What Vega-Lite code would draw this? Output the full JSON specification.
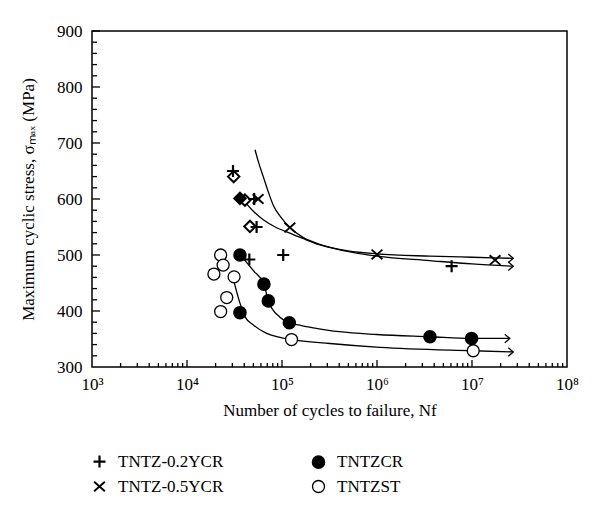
{
  "$schema": "https://vega.github.io/schema/vega-lite/v6.json",
  "width": 475,
  "height": 336,
  "autosize": {"type": "none"},
  "padding": {"left": 92, "top": 31, "right": 33, "bottom": 149},
  "background": "white",
  "config": {
    "font": "Liberation Serif",
    "view": {"stroke": "black", "strokeWidth": 1.5},
    "axis": {
      "grid": false,
      "domainColor": "black",
      "domainWidth": 1.5,
      "labelColor": "black",
      "titleColor": "black",
      "labelFont": "Liberation Serif",
      "titleFont": "Liberation Serif",
      "labelFontSize": 17,
      "titleFontSize": 17,
      "titleFontWeight": "normal",
      "labelOverlap": false,
      "labelFlush": false
    },
    "legend": {
      "orient": "none",
      "legendX": -1,
      "legendY": 422,
      "columns": 2,
      "columnPadding": 85,
      "rowPadding": 5,
      "labelFont": "Liberation Serif",
      "labelFontSize": 17,
      "labelFontWeight": "normal",
      "labelColor": "black",
      "labelOffset": 10,
      "symbolSize": 144,
      "symbolStrokeColor": "black",
      "symbolStrokeWidth": 2,
      "padding": 0
    }
  },
  "datasets": {
    "pts": [
      {"series": "TNTZ-0.2YCR", "cycles": 30500, "stress": 650},
      {"series": "TNTZ-0.2YCR", "cycles": 51000, "stress": 600},
      {"series": "TNTZ-0.2YCR", "cycles": 54000, "stress": 550},
      {"series": "TNTZ-0.2YCR", "cycles": 45300, "stress": 492},
      {"series": "TNTZ-0.2YCR", "cycles": 103000, "stress": 500},
      {"series": "TNTZ-0.2YCR", "cycles": 6100000, "stress": 480},
      {"series": "TNTZ-0.5YCR", "cycles": 56000, "stress": 600},
      {"series": "TNTZ-0.5YCR", "cycles": 121000, "stress": 549},
      {"series": "TNTZ-0.5YCR", "cycles": 1000000, "stress": 501},
      {"series": "TNTZ-0.5YCR", "cycles": 17500000, "stress": 491},
      {"series": "TNTZCR", "cycles": 36100, "stress": 500},
      {"series": "TNTZCR", "cycles": 64500, "stress": 448},
      {"series": "TNTZCR", "cycles": 71800, "stress": 418},
      {"series": "TNTZCR", "cycles": 36100, "stress": 397},
      {"series": "TNTZCR", "cycles": 119500, "stress": 379},
      {"series": "TNTZCR", "cycles": 3610000, "stress": 354},
      {"series": "TNTZCR", "cycles": 9900000, "stress": 351},
      {"series": "TNTZST", "cycles": 22600, "stress": 500},
      {"series": "TNTZST", "cycles": 24000, "stress": 482},
      {"series": "TNTZST", "cycles": 19200, "stress": 466},
      {"series": "TNTZST", "cycles": 31300, "stress": 461},
      {"series": "TNTZST", "cycles": 26200, "stress": 424},
      {"series": "TNTZST", "cycles": 22600, "stress": 399},
      {"series": "TNTZST", "cycles": 126000, "stress": 349},
      {"series": "TNTZST", "cycles": 10300000, "stress": 329}
    ],
    "diamondsOpen": [
      {"cycles": 31000, "stress": 640},
      {"cycles": 40700, "stress": 598},
      {"cycles": 46000, "stress": 551}
    ],
    "diamondsSolid": [
      {"cycles": 36100, "stress": 601}
    ],
    "curves": [
      {"curve": "A", "cycles": 52000, "stress": 688},
      {"curve": "A", "cycles": 57000, "stress": 664},
      {"curve": "A", "cycles": 63500, "stress": 640},
      {"curve": "A", "cycles": 72000, "stress": 612},
      {"curve": "A", "cycles": 80900, "stress": 589},
      {"curve": "A", "cycles": 100000, "stress": 565},
      {"curve": "A", "cycles": 121000, "stress": 549},
      {"curve": "A", "cycles": 168000, "stress": 531},
      {"curve": "A", "cycles": 250000, "stress": 519},
      {"curve": "A", "cycles": 400000, "stress": 510},
      {"curve": "A", "cycles": 1000000, "stress": 502},
      {"curve": "A", "cycles": 3600000, "stress": 498},
      {"curve": "A", "cycles": 10000000, "stress": 496},
      {"curve": "A", "cycles": 27200000, "stress": 494},
      {"curve": "B", "cycles": 39200, "stress": 598},
      {"curve": "B", "cycles": 50000, "stress": 578},
      {"curve": "B", "cycles": 63500, "stress": 563},
      {"curve": "B", "cycles": 85000, "stress": 550},
      {"curve": "B", "cycles": 121000, "stress": 539},
      {"curve": "B", "cycles": 168000, "stress": 529},
      {"curve": "B", "cycles": 250000, "stress": 518},
      {"curve": "B", "cycles": 442000, "stress": 508},
      {"curve": "B", "cycles": 1000000, "stress": 498},
      {"curve": "B", "cycles": 3600000, "stress": 490},
      {"curve": "B", "cycles": 10000000, "stress": 484},
      {"curve": "B", "cycles": 27200000, "stress": 480},
      {"curve": "C", "cycles": 37000, "stress": 499},
      {"curve": "C", "cycles": 50000, "stress": 472},
      {"curve": "C", "cycles": 64500, "stress": 448},
      {"curve": "C", "cycles": 71800, "stress": 418},
      {"curve": "C", "cycles": 95000, "stress": 389},
      {"curve": "C", "cycles": 119500, "stress": 379},
      {"curve": "C", "cycles": 160000, "stress": 374},
      {"curve": "C", "cycles": 214000, "stress": 370},
      {"curve": "C", "cycles": 400000, "stress": 363},
      {"curve": "C", "cycles": 1000000, "stress": 358},
      {"curve": "C", "cycles": 3600000, "stress": 354},
      {"curve": "C", "cycles": 10000000, "stress": 351},
      {"curve": "C", "cycles": 25000000, "stress": 351},
      {"curve": "D", "cycles": 30000, "stress": 464},
      {"curve": "D", "cycles": 36100, "stress": 414},
      {"curve": "D", "cycles": 40700, "stress": 390},
      {"curve": "D", "cycles": 50000, "stress": 375},
      {"curve": "D", "cycles": 69000, "stress": 360},
      {"curve": "D", "cycles": 95000, "stress": 353},
      {"curve": "D", "cycles": 126000, "stress": 349},
      {"curve": "D", "cycles": 320000, "stress": 342},
      {"curve": "D", "cycles": 1070000, "stress": 335},
      {"curve": "D", "cycles": 10300000, "stress": 329},
      {"curve": "D", "cycles": 27200000, "stress": 327}
    ],
    "arrows": [
      {"curve": "A", "cycles": 27200000, "stress": 494},
      {"curve": "B", "cycles": 27200000, "stress": 480},
      {"curve": "C", "cycles": 25000000, "stress": 351},
      {"curve": "D", "cycles": 27200000, "stress": 327}
    ],
    "xTicksMajor": [
      {"cycles": 10000}, {"cycles": 100000}, {"cycles": 1000000}, {"cycles": 10000000}
    ],
    "xTicksMinor": [
      {"cycles": 2000}, {"cycles": 3000}, {"cycles": 4000}, {"cycles": 5000}, {"cycles": 6000}, {"cycles": 7000}, {"cycles": 8000}, {"cycles": 9000},
      {"cycles": 20000}, {"cycles": 30000}, {"cycles": 40000}, {"cycles": 50000}, {"cycles": 60000}, {"cycles": 70000}, {"cycles": 80000}, {"cycles": 90000},
      {"cycles": 200000}, {"cycles": 300000}, {"cycles": 400000}, {"cycles": 500000}, {"cycles": 600000}, {"cycles": 700000}, {"cycles": 800000}, {"cycles": 900000},
      {"cycles": 2000000}, {"cycles": 3000000}, {"cycles": 4000000}, {"cycles": 5000000}, {"cycles": 6000000}, {"cycles": 7000000}, {"cycles": 8000000}, {"cycles": 9000000},
      {"cycles": 20000000}, {"cycles": 30000000}, {"cycles": 40000000}, {"cycles": 50000000}, {"cycles": 60000000}, {"cycles": 70000000}, {"cycles": 80000000}, {"cycles": 90000000}
    ],
    "yTicksMajor": [
      {"stress": 400}, {"stress": 500}, {"stress": 600}, {"stress": 700}, {"stress": 800}, {"stress": 900}
    ],
    "yTicksMinor": [
      {"stress": 320}, {"stress": 340}, {"stress": 360}, {"stress": 380},
      {"stress": 420}, {"stress": 440}, {"stress": 460}, {"stress": 480},
      {"stress": 520}, {"stress": 540}, {"stress": 560}, {"stress": 580},
      {"stress": 620}, {"stress": 640}, {"stress": 660}, {"stress": 680},
      {"stress": 720}, {"stress": 740}, {"stress": 760}, {"stress": 780},
      {"stress": 820}, {"stress": 840}, {"stress": 860}, {"stress": 880}
    ]
  },
  "resolve": {"axis": {"x": "independent", "y": "independent"}},
  "layer": [
    {
      "data": {"name": "xTicksMajor"},
      "mark": {"type": "tick", "orient": "vertical", "size": 7, "thickness": 1.3, "color": "black", "opacity": 1, "yOffset": -3.5},
      "encoding": {
        "x": {"field": "cycles", "type": "quantitative", "scale": {"type": "log", "domain": [1000, 100000000], "nice": false}, "axis": null},
        "y": {"datum": 300, "type": "quantitative", "scale": {"domain": [300, 900], "nice": false, "zero": false}, "axis": null}
      }
    },
    {
      "data": {"name": "xTicksMinor"},
      "mark": {"type": "tick", "orient": "vertical", "size": 4, "thickness": 1.3, "color": "black", "opacity": 1, "yOffset": -2},
      "encoding": {
        "x": {"field": "cycles", "type": "quantitative", "scale": {"type": "log", "domain": [1000, 100000000], "nice": false}, "axis": null},
        "y": {"datum": 300, "type": "quantitative", "scale": {"domain": [300, 900], "nice": false, "zero": false}, "axis": null}
      }
    },
    {
      "data": {"name": "yTicksMajor"},
      "mark": {"type": "tick", "orient": "horizontal", "size": 8, "thickness": 1.3, "color": "black", "opacity": 1, "xOffset": 4},
      "encoding": {
        "x": {"datum": 1000, "type": "quantitative", "scale": {"type": "log", "domain": [1000, 100000000], "nice": false}, "axis": null},
        "y": {"field": "stress", "type": "quantitative", "scale": {"domain": [300, 900], "nice": false, "zero": false}, "axis": null}
      }
    },
    {
      "data": {"name": "yTicksMinor"},
      "mark": {"type": "tick", "orient": "horizontal", "size": 5, "thickness": 1.3, "color": "black", "opacity": 1, "xOffset": 2.5},
      "encoding": {
        "x": {"datum": 1000, "type": "quantitative", "scale": {"type": "log", "domain": [1000, 100000000], "nice": false}, "axis": null},
        "y": {"field": "stress", "type": "quantitative", "scale": {"domain": [300, 900], "nice": false, "zero": false}, "axis": null}
      }
    },
    {
      "data": {"name": "curves"},
      "mark": {"type": "line", "color": "black", "strokeWidth": 1.3, "interpolate": "monotone"},
      "encoding": {
        "x": {"field": "cycles", "type": "quantitative", "scale": {"type": "log", "domain": [1000, 100000000], "nice": false}, "axis": null},
        "y": {"field": "stress", "type": "quantitative", "scale": {"domain": [300, 900], "nice": false, "zero": false}, "axis": null},
        "detail": {"field": "curve", "type": "nominal"}
      }
    },
    {
      "data": {"name": "arrows"},
      "mark": {"type": "point", "shape": "M-1,-0.85L0,0L-1,0.85", "filled": false, "stroke": "black", "strokeWidth": 1.3, "size": 100, "opacity": 1},
      "encoding": {
        "x": {
          "field": "cycles", "type": "quantitative",
          "scale": {"type": "log", "domain": [1000, 100000000], "nice": false},
          "axis": {
            "orient": "bottom",
            "domain": false,
            "ticks": true,
            "offset": -7,
            "tickSize": 7,
            "tickOpacity": 0,
            "title": "Number of cycles to failure, Nf",
            "titleFont": "Liberation Serif",
            "values": [1000, 10000, 100000, 1000000, 10000000, 100000000],
            "labelExpr": "'10' + ['⁰','¹','²','³','⁴','⁵','⁶','⁷','⁸'][round(log(datum.value)/LN10)]",
            "labelPadding": 9,
            "titlePadding": 10
          }
        },
        "y": {
          "field": "stress", "type": "quantitative",
          "scale": {"domain": [300, 900], "nice": false, "zero": false},
          "axis": {
            "orient": "left",
            "domain": false,
            "ticks": true,
            "offset": -8,
            "tickSize": 8,
            "tickOpacity": 0,
            "title": "Maximum cyclic stress, σₘₐₓ (MPa)",
            "titleFont": "Liberation Serif",
            "values": [300, 400, 500, 600, 700, 800, 900],
            "labelPadding": 10,
            "titlePadding": 19
          }
        }
      }
    },
    {
      "data": {"name": "diamondsOpen"},
      "mark": {"type": "point", "shape": "diamond", "filled": true, "fill": "white", "stroke": "black", "strokeWidth": 2, "size": 130, "opacity": 1},
      "encoding": {
        "x": {"field": "cycles", "type": "quantitative", "scale": {"type": "log", "domain": [1000, 100000000], "nice": false}, "axis": null},
        "y": {"field": "stress", "type": "quantitative", "scale": {"domain": [300, 900], "nice": false, "zero": false}, "axis": null}
      }
    },
    {
      "data": {"name": "diamondsSolid"},
      "mark": {"type": "point", "shape": "diamond", "filled": true, "fill": "black", "stroke": "black", "strokeWidth": 2, "size": 130, "opacity": 1},
      "encoding": {
        "x": {"field": "cycles", "type": "quantitative", "scale": {"type": "log", "domain": [1000, 100000000], "nice": false}, "axis": null},
        "y": {"field": "stress", "type": "quantitative", "scale": {"domain": [300, 900], "nice": false, "zero": false}, "axis": null}
      }
    },
    {
      "data": {"name": "pts"},
      "mark": {"type": "point", "filled": true, "size": 144, "opacity": 1},
      "encoding": {
        "x": {"field": "cycles", "type": "quantitative", "scale": {"type": "log", "domain": [1000, 100000000], "nice": false}, "axis": null},
        "y": {"field": "stress", "type": "quantitative", "scale": {"domain": [300, 900], "nice": false, "zero": false}, "axis": null},
        "shape": {
          "field": "series",
          "type": "nominal",
          "scale": {
            "domain": ["TNTZ-0.2YCR", "TNTZ-0.5YCR", "TNTZCR", "TNTZST"],
            "range": ["M-1,0L1,0M0,-1L0,1", "M-0.9,-0.8L0.9,0.8M-0.9,0.8L0.9,-0.8", "circle", "circle"]
          },
          "legend": {"title": null, "labelFont": "Liberation Serif"}
        },
        "fill": {
          "field": "series",
          "type": "nominal",
          "scale": {
            "domain": ["TNTZ-0.2YCR", "TNTZ-0.5YCR", "TNTZCR", "TNTZST"],
            "range": ["black", "black", "black", "white"]
          },
          "legend": {"title": null, "labelFont": "Liberation Serif"}
        },
        "stroke": {
          "field": "series",
          "type": "nominal",
          "scale": {
            "domain": ["TNTZ-0.2YCR", "TNTZ-0.5YCR", "TNTZCR", "TNTZST"],
            "range": ["black", "black", "black", "black"]
          },
          "legend": {"title": null, "labelFont": "Liberation Serif"}
        },
        "strokeWidth": {
          "field": "series",
          "type": "nominal",
          "scale": {
            "domain": ["TNTZ-0.2YCR", "TNTZ-0.5YCR", "TNTZCR", "TNTZST"],
            "range": [2.2, 1.3, 1.5, 2.2]
          },
          "legend": null
        }
      }
    }
  ]
}
